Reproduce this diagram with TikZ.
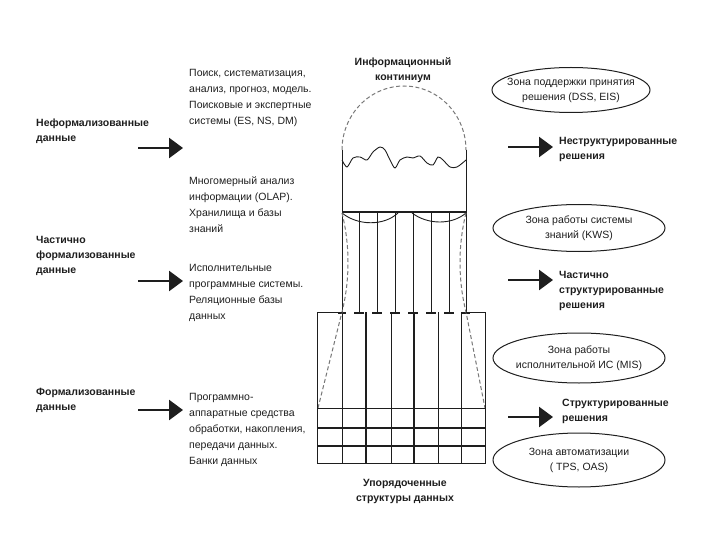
\documentclass[tikz,border=0pt]{standalone}
\usepackage{fontspec}
\setmainfont{Liberation Sans}
\usetikzlibrary{arrows.meta}
\definecolor{ink}{RGB}{30,30,30}
\definecolor{dash}{RGB}{120,120,120}
\begin{document}
\begin{tikzpicture}[x=1pt,y=-1pt,
  txt/.style={font=\fontsize{10.5}{16}\selectfont, align=left, inner sep=0pt, anchor=north west, text=ink},
  bld/.style={font=\fontsize{10.5}{15}\selectfont\bfseries, align=left, inner sep=0pt, anchor=north west, text=ink},
  ttl/.style={font=\fontsize{10.5}{15}\selectfont\bfseries, align=center, inner sep=0pt, text=ink},
  ztxt/.style={font=\fontsize{10.5}{15}\selectfont, align=center, inner sep=0pt, text=ink},
  zone/.style={draw=ink, line width=1pt},
  bigarrow/.style={draw=ink, line width=2.6pt, -{Triangle[length=14pt,width=20pt]}},
  frame/.style={draw=ink, line width=0.9pt},
  thick frame/.style={draw=ink, line width=1.4pt},
  grayd/.style={draw=dash, line width=1pt, dash pattern=on 4pt off 2.5pt},
  tbar/.style={draw=ink, line width=2.2pt}
]
\useasboundingbox (0,0) rectangle (720,540);

% ---------- titles ----------
\node[ttl] (t1) at (403,70) {Информационный\\континиум};
\node[ttl] (t2) at (405,491) {Упорядоченные\\структуры данных};

% ---------- dome ----------
\draw[grayd] (342,150) arc[start angle=180, end angle=360, x radius=62, y radius=64];
\draw[frame, smooth] plot coordinates {(342,160) (347,167) (353,158) (360,157) (367,160) (373,152) (380,147) (385,150) (390,160) (395,168) (400,160) (407,157) (413,158) (420,156) (427,163) (433,165) (438,157) (443,160) (450,167) (457,167) (466,160)};

% ---------- upper frame ----------
\draw[frame] (342,150) -- (342,463);
\draw[frame] (466,150) -- (466,312);
\draw[thick frame] (342,212) -- (466,212);
\draw[frame] (342,213) .. controls (358,226) and (384,226) .. (398,213);
\draw[frame] (412,213) .. controls (428,225) and (452,225) .. (466,213);
\foreach \x in {359,377,395,413,431,449} {
  \draw[frame] (\x,212) -- (\x,312);
  \draw[tbar] (\x-5,313) -- (\x+5,313);
}
\draw[tbar] (461,313) -- (470,313);
\draw[tbar] (338,313) -- (346,313);

% gray dashed bulges
\draw[grayd] (342,213) .. controls (350,245) and (350,280) .. (342,312) -- (318,408);
\draw[grayd] (466,213) .. controls (458,245) and (458,280) .. (466,312) -- (485,408);

% ---------- lower frame ----------
\draw[frame] (342,312) -- (317,312) -- (317,463) -- (485,463) -- (485,312) -- (466,312);
\draw[frame] (317,408) -- (485,408);
\draw[thick frame] (317,428) -- (485,428);
\draw[thick frame] (317,446) -- (485,446);
\foreach \x in {391,438,461} \draw[frame] (\x,312) -- (\x,463);
\foreach \x in {366,414} \draw[thick frame] (\x,312) -- (\x,463);

% ---------- left labels ----------
\node[bld] (l1) at (36,119) {Неформализованные\\данные};
\node[bld] (l2) at (36,236) {Частично\\формализованные\\данные};
\node[bld] (l3) at (36,388) {Формализованные\\данные};

\coordinate (a1s) at (138,148); \coordinate (a1e) at (183,148);
\coordinate (a2s) at (138,281); \coordinate (a2e) at (183,281);
\coordinate (a3s) at (138,410); \coordinate (a3e) at (183,410);
\draw[bigarrow] (a1s) -- (a1e);
\draw[bigarrow] (a2s) -- (a2e);
\draw[bigarrow] (a3s) -- (a3e);

% ---------- middle texts ----------
\node[txt] (m1) at (189,69) {Поиск, систематизация,\\анализ, прогноз, модель.\\Поисковые и экспертные\\системы (ES, NS, DM)};
\node[txt] (m2) at (189,177) {Многомерный анализ\\информации (OLAP).\\Хранилища и базы\\знаний};
\node[txt] (m3) at (189,264) {Исполнительные\\программные системы.\\Реляционные базы\\данных};
\node[txt] (m4) at (189,393) {Программно-\\аппаратные средства\\обработки, накопления,\\передачи данных.\\Банки данных};

% ---------- zones ----------
\node[ztxt] (z1) at (571,90) {Зона поддержки принятия\\решения (DSS, EIS)};
\draw[zone] (z1.center) ellipse[x radius=79, y radius=22.5];
\node[ztxt] (z2) at (579,228) {Зона работы системы\\знаний (KWS)};
\draw[zone] (z2.center) ellipse[x radius=86, y radius=23.5];
\node[ztxt] (z3) at (579,358) {Зона работы\\исполнительной ИС (MIS)};
\draw[zone] (z3.center) ellipse[x radius=86, y radius=25];
\node[ztxt] (z4) at (579,460) {Зона автоматизации\\( TPS, OAS)};
\draw[zone] (z4.center) ellipse[x radius=86, y radius=27];

% ---------- right arrows and labels ----------
\coordinate (r1s) at (508,147); \coordinate (r1e) at (553,147);
\coordinate (r2s) at (508,280); \coordinate (r2e) at (553,280);
\coordinate (r3s) at (508,417); \coordinate (r3e) at (553,417);
\draw[bigarrow] (r1s) -- (r1e);
\draw[bigarrow] (r2s) -- (r2e);
\draw[bigarrow] (r3s) -- (r3e);
\node[bld] (s1) at (559,137) {Неструктурированные\\решения};
\node[bld] (s2) at (559,271) {Частично\\структурированные\\решения};
\node[bld] (s3) at (562,399) {Структурированные\\решения};
\end{tikzpicture}
\end{document}
